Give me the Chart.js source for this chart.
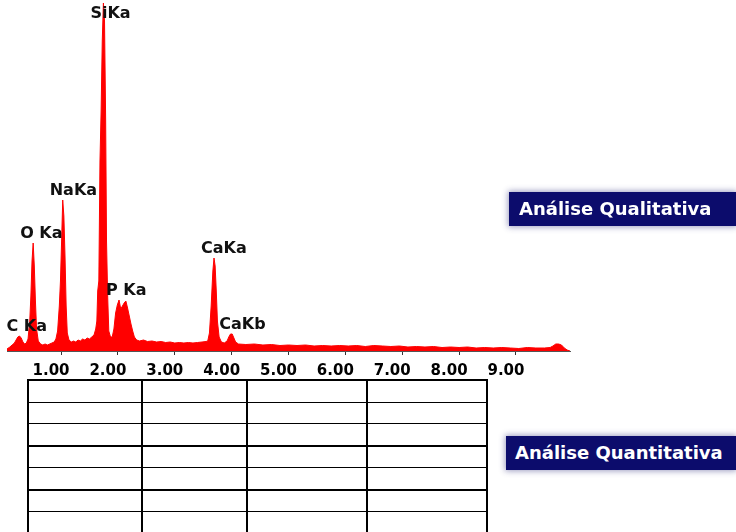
<!DOCTYPE html>
<html>
<head>
<meta charset="utf-8">
<script src="https://cdn.jsdelivr.net/npm/chart.js@4/dist/chart.umd.min.js"></script>
<style>
  body {
    margin: 0;
    width: 736px;
    height: 532px;
    overflow: hidden;
    background: #fff;
    position: relative;
    font-family: "DejaVu Sans", sans-serif;
  }
  #chartWrap {
    position: absolute;
    left: 0;
    top: 0;
    width: 580px;
    height: 385px;
  }
  table.results {
    position: absolute;
    left: 27px;
    top: 379px;
    border-collapse: collapse;
    border: 2px solid #000;
  }
  table.results td {
    border-top: 1px solid #000;
    border-bottom: 1px solid #000;
    border-left: 2px solid #000;
    border-right: 2px solid #000;
    height: 20.5px;
    padding: 0;
  }
  table.results tr.thick td {
    border-bottom: 2px solid #000;
  }
  table.results tr.last td {
    height: 28px;
  }
  .tag {
    position: absolute;
    height: 34px;
    line-height: 34px;
    right: 0;
    background: #0c0c6c;
    color: #fff;
    font-weight: bold;
    font-size: 18px;
    padding-left: 10px;
    box-shadow: 0 0 6px 1px rgba(40, 40, 120, 0.45);
  }
</style>
</head>
<body>
<div id="chartWrap"><canvas id="spectrum"></canvas></div>

<table class="results">
  <tr><td style="width:112px"></td><td style="width:103px"></td><td style="width:118px"></td><td style="width:118px"></td></tr>
  <tr><td></td><td></td><td></td><td></td></tr>
  <tr class="thick"><td></td><td></td><td></td><td></td></tr>
  <tr><td></td><td></td><td></td><td></td></tr>
  <tr class="thick"><td></td><td></td><td></td><td></td></tr>
  <tr><td></td><td></td><td></td><td></td></tr>
  <tr class="last"><td></td><td></td><td></td><td></td></tr>
</table>

<div class="tag" style="left:509px; top:192px;">Análise Qualitativa</div>
<div class="tag" style="left:506px; top:436px; padding-left:9px;">Análise Quantitativa</div>

<script>
  // EDS spectrum, energy in keV, counts
  const energies = [
    0.05, 0.10, 0.14, 0.18, 0.21, 0.24, 0.27, 0.30, 0.33, 0.36,
    0.39, 0.42, 0.45, 0.47, 0.49, 0.51, 0.53, 0.55, 0.57, 0.60,
    0.64, 0.68, 0.72, 0.76, 0.80, 0.84, 0.88, 0.91, 0.94, 0.97,
    0.99, 1.01, 1.03, 1.05, 1.07, 1.09, 1.11, 1.14, 1.18, 1.22,
    1.26, 1.30, 1.34, 1.38, 1.42, 1.46, 1.50, 1.54, 1.58, 1.61,
    1.63, 1.645, 1.665, 1.685, 1.705, 1.725, 1.745, 1.765, 1.785, 1.80,
    1.82, 1.84, 1.87, 1.90, 1.93, 1.96, 1.99, 2.02, 2.05, 2.08,
    2.11, 2.14, 2.17, 2.20, 2.23, 2.26, 2.29, 2.33, 2.38, 2.45,
    2.52, 2.60, 2.68, 2.76, 2.84, 2.92, 3.00, 3.08, 3.16, 3.24,
    3.32, 3.40, 3.48, 3.55, 3.58, 3.61, 3.64, 3.67, 3.69, 3.71,
    3.73, 3.75, 3.78, 3.82, 3.87, 3.92, 3.95, 3.98, 4.01, 4.04,
    4.07, 4.12, 4.25, 4.40, 4.55, 4.70, 4.85, 5.00, 5.15, 5.30,
    5.45, 5.60, 5.75, 5.90, 6.05, 6.20, 6.35, 6.50, 6.65, 6.80,
    6.95, 7.10, 7.25, 7.40, 7.55, 7.70, 7.85, 8.00, 8.15, 8.30,
    8.45, 8.60, 8.75, 8.90, 9.05, 9.20, 9.35, 9.50, 9.60, 9.65,
    9.70, 9.75, 9.80, 9.85, 9.90, 9.95
  ];
  const counts = [
    20, 40, 60, 80, 110, 140, 150, 130, 90, 70,
    80, 120, 300, 550, 900, 1080, 850, 500, 220, 100,
    70, 60, 70, 60, 70, 80, 90, 120, 200, 450,
    700, 1100, 1510, 1350, 950, 450, 180, 110, 90, 100,
    90, 110, 100, 120, 110, 130, 120, 140, 160, 220,
    300, 600, 700, 1900, 2400, 3100, 3480, 3300, 2300, 1100,
    550, 200, 140, 140, 220, 380, 460, 510, 420, 450,
    480, 500, 430, 350, 270, 200, 140, 110, 100, 110,
    95, 100, 90, 95, 85, 90, 80, 85, 80, 85,
    80, 85, 90, 95, 100, 180, 450, 800, 930, 850,
    600, 300, 140, 90, 80, 100, 140, 170, 170, 130,
    90, 70, 65, 70, 60, 65, 55, 60, 55, 60,
    50, 55, 50, 55, 50, 55, 45, 55, 50, 45,
    50, 40, 45, 40, 45, 35, 40, 35, 40, 30,
    35, 30, 35, 30, 25, 35, 30, 30, 35, 50,
    70, 70, 60, 30, 10, 0
  ];

  // peak labels and the line energy they sit on
  const peakNames = ["C Ka", "O Ka", "NaKa", "SiKa", "P Ka", "CaKa", "CaKb"];
  const peakEnergies = [0.27, 0.51, 1.03, 1.745, 2.02, 3.69, 4.01];

  const tickValues = [1, 2, 3, 4, 5, 6, 7, 8, 9];

  function peakHeight(energy) {
    let best = 0;
    energies.forEach((e, i) => {
      if (Math.abs(e - energy) <= 0.03 && counts[i] > best) best = counts[i];
    });
    return best;
  }

  const peakLabels = {
    id: "peakLabels",
    afterDatasetsDraw(chart) {
      const ctx = chart.ctx;
      const xs = chart.scales.x;
      const ys = chart.scales.y;
      ctx.save();
      ctx.font = "bold 16px 'DejaVu Sans'";
      ctx.fillStyle = "#111";
      ctx.textAlign = "left";
      ctx.textBaseline = "alphabetic";
      peakNames.forEach((name, i) => {
        const x = xs.getPixelForValue(peakEnergies[i]) - 13;
        const y = Math.max(ys.getPixelForValue(peakHeight(peakEnergies[i])) - 5, 18);
        ctx.fillText(name, x, y);
      });
      ctx.restore();
    },
  };

  new Chart(document.getElementById("spectrum"), {
    type: "line",
    data: {
      datasets: [
        {
          data: energies.map((e, i) => ({ x: e, y: counts[i] })),
          borderColor: "#ff0000",
          backgroundColor: "#ff0000",
          borderWidth: 1,
          fill: "origin",
          pointRadius: 0,
          tension: 0,
        },
      ],
    },
    options: {
      responsive: true,
      maintainAspectRatio: false,
      animation: false,
      layout: { padding: { left: 7, right: 10, top: 1, bottom: 0 } },
      plugins: {
        legend: { display: false },
        tooltip: { enabled: false },
      },
      scales: {
        x: {
          type: "linear",
          min: 0.05,
          max: 9.95,
          afterBuildTicks: (axis) => {
            axis.ticks = tickValues.map((v) => ({ value: v }));
          },
          afterFit: (axis) => {
            axis.height = 34;
          },
          grid: {
            drawOnChartArea: false,
            drawTicks: true,
            tickLength: 4,
            color: "#333",
          },
          border: { display: true, color: "#555", width: 1 },
          ticks: {
            autoSkip: false,
            maxRotation: 0,
            padding: 7,
            labelOffset: -10,
            color: "#000",
            font: { family: "DejaVu Sans", size: 15, weight: "bold" },
            callback: (value) => Number(value).toFixed(2),
          },
        },
        y: {
          display: false,
          min: 0,
          max: 3500,
        },
      },
    },
    plugins: [peakLabels],
  });
</script>
</body>
</html>
